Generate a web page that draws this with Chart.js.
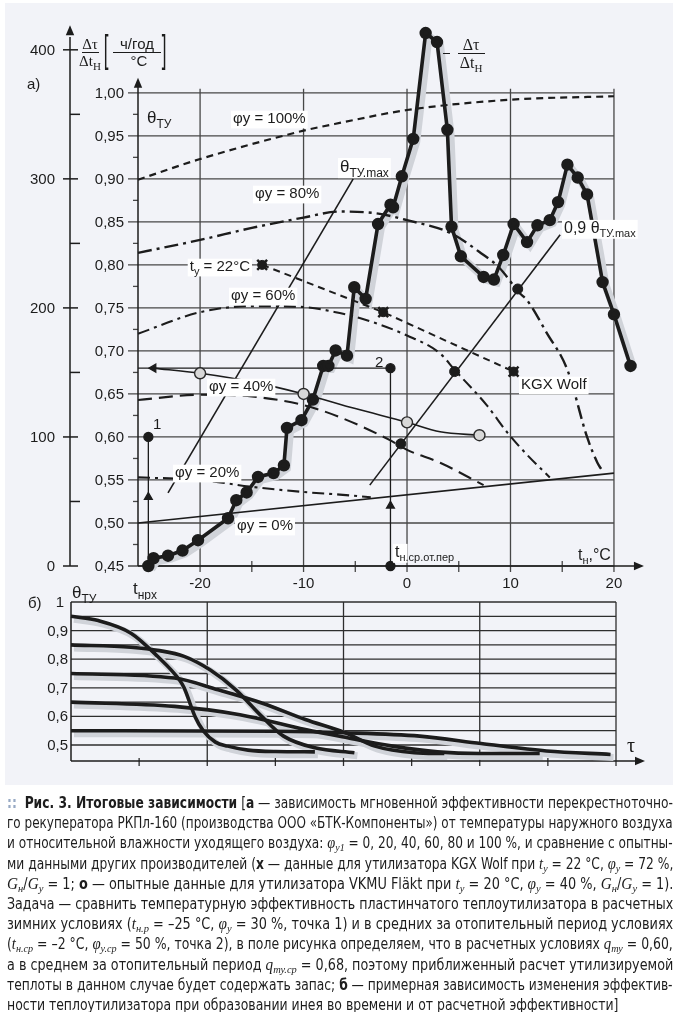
<!DOCTYPE html>
<html lang="ru">
<head>
<meta charset="utf-8">
<title>Итоговые зависимости</title>
<script src="https://cdn.jsdelivr.net/npm/chart.js@4.4.1/dist/chart.umd.min.js"></script>
<style>
  html, body { margin: 0; padding: 0; background: #fff; }
  #page { position: relative; width: 682px; height: 1012px; overflow: hidden; background: #fff; }
  #panel { position: absolute; left: 5px; top: 3px; width: 668px; height: 782px; background: #f2f3f8; }
  #topChart { position: absolute; left: 0; top: 0; }
  #bottomChart { position: absolute; left: 0; top: 585px; }
  .cap { position: absolute; left: 7px; height: 20px; line-height: 20px; white-space: nowrap;
         font-family: "Liberation Sans Narrow", "DejaVu Sans Condensed", "Roboto", sans-serif;
         font-size: 15px; color: #1d1d1d; transform-origin: 0 50%; }
  .cap i { font-family: "Liberation Serif", serif; font-style: italic; font-size: 16px; }
  .cap sub { font-family: "Liberation Serif", serif; font-style: italic; font-size: 11px; vertical-align: -3px; line-height: 0; }
  .dots { color: #97a9c4; font-weight: bold; }
</style>
</head>
<body>
<div id="page">
  <div id="panel"></div>
  <canvas id="topChart" width="682" height="600"></canvas>
  <canvas id="bottomChart" width="682" height="195"></canvas>
  <div id="caption"></div>
</div>
<script>
// ===== ДАННЫЕ: а) эффективность θ_ТУ от t_н =====
const tTicks = [-20, -10, 0, 10, 20];
const tTickLabels = ['-20', '-10', '0', '10', '20'];
const tMinor = [-15, -5, 5, 15];
const thetaTicks = [0.45, 0.50, 0.55, 0.60, 0.65, 0.70, 0.75, 0.80, 0.85, 0.90, 0.95, 1.00];
const thetaTickLabels = ['0,45', '0,50', '0,55', '0,60', '0,65', '0,70', '0,75', '0,80', '0,85', '0,90', '0,95', '1,00'];
const thetaMinor = [0.475, 0.525, 0.575, 0.625, 0.675, 0.725, 0.775, 0.825, 0.875, 0.925, 0.975];
const dtTicks = [0, 100, 200, 300, 400];
const dtMinor = [50, 150, 250, 350];

const phi100T = [-26, -20, -10, -6.5, 0, 10, 20];
const phi100V = [0.899, 0.923, 0.956, 0.965, 0.980, 0.992, 0.996];
const phi80T = [-26, -20, -15, -10, -6.5, -3, 0, 4.2, 7, 8.9, 10.9, 11.6, 13.5, 15.5, 17.4, 18.4, 18.8];
const phi80V = [0.814, 0.829, 0.843, 0.855, 0.862, 0.860, 0.852, 0.837, 0.815, 0.797, 0.767, 0.759, 0.721, 0.678, 0.600, 0.570, 0.562];
const phi60T = [-26, -20, -15, -10, -6.5, -4.5, 0, 3.2, 4.6, 7.7, 9.7, 11.7, 13.8];
const phi60V = [0.720, 0.745, 0.752, 0.751, 0.744, 0.738, 0.718, 0.697, 0.678, 0.637, 0.605, 0.578, 0.553];
const phi40T = [-26, -20, -15, -10, -6.5, -1.6, 0, 3.2, 7.4];
const phi40V = [0.643, 0.649, 0.647, 0.637, 0.623, 0.596, 0.585, 0.570, 0.544];
const phi20T = [-26, -20, -15, -10, -6.5, -3.5];
const phi20V = [0.553, 0.550, 0.542, 0.536, 0.533, 0.530];
const phi0T = [-26, 20];
const phi0V = [0.500, 0.558];

// KGX Wolf (x), t_y = 22 °C
const kgxT = [-14, -2.3, 10.3];
const kgxV = [0.800, 0.745, 0.676];
// VKMU Fläkt (o)
const vkmuT = [-24.5, -20, -15, -10, -5, 0, 3.2, 7];
const vkmuV = [0.680, 0.674, 0.664, 0.650, 0.633, 0.617, 0.606, 0.602];
const vkmuCircT = [-20, -10, 0, 7];
const vkmuCircV = [0.674, 0.650, 0.617, 0.602];

// θ_ТУ.max и 0,9 θ_ТУ.max
const maxT = [-23.1, -5.2];
const maxV = [0.535, 0.900];
const max09T = [-3.6, 14.8];
const max09V = [0.544, 0.835];
const crossT = [-0.6, 4.6, 10.7];
const crossV = [0.592, 0.676, 0.772];

// точки 1 и 2 (расчетные и средние условия)
const pointT = [-25, -1.6];
const pointV = [0.60, 0.68];
const arrowV = [0.53, 0.52];
const arrowT = -24.5;

// Δτ/Δt_н, ч/год/°C
const dtT = [-25, -24.5, -23.1, -21.7, -20.2, -17.3, -16.5, -15.5, -14.4, -12.9, -11.9, -11.6, -10.2, -9.1, -8.1, -7.6, -6.9,
             -5.8, -5.1, -4.0, -2.8, -1.6, -1.35, -0.5, 0.6, 1.8, 2.9, 3.9, 4.3, 5.2, 7.4, 8.4, 9.3, 10.3, 11.6, 12.6, 13.8,
             14.6, 15.5, 16.5, 17.4, 18.9, 20.0, 21.6];
const dtV = [0, 6, 8, 12, 20, 37, 51, 57, 69, 72, 78, 107, 113, 129, 155, 155, 167,
             163, 216, 207, 265, 280, 278, 302, 331, 413, 406, 338, 263, 240, 224, 222, 241, 265, 251, 264, 268,
             282, 311, 301, 288, 220, 195, 155];

// ===== ДАННЫЕ: б) эффективность во времени при инееобразовании =====
const frostTicks = [0.5, 0.6, 0.7, 0.8, 0.9, 1.0];
const frostTickLabels = ['0,5', '0,6', '0,7', '0,8', '0,9', '1'];
const frostGrid = [0.5, 0.55, 0.6, 0.65, 0.7, 0.75, 0.8, 0.85, 0.9, 0.95, 1.0];
const tauGrid = [1, 2, 3, 4];
const tauMinor = [0.5, 1.5, 2.5, 3.5];

const frost95T = [0, 0.2, 0.44, 0.635, 0.795, 0.83, 0.91, 0.97, 1.06, 1.15, 1.3, 1.5, 1.79];
const frost95V = [0.95, 0.935, 0.891, 0.81, 0.728, 0.70, 0.60, 0.55, 0.51, 0.496, 0.482, 0.477, 0.476];
const frost85T = [0, 0.44, 0.65, 0.83, 1.02, 1.21, 1.40, 1.56, 1.79, 2.08];
const frost85V = [0.85, 0.842, 0.83, 0.81, 0.763, 0.693, 0.60, 0.531, 0.49, 0.473];
const frost75T = [0, 0.76, 1.08, 1.40, 1.72, 2.01, 2.23, 2.52, 2.74];
const frost75V = [0.75, 0.734, 0.693, 0.647, 0.589, 0.543, 0.496, 0.473, 0.47];
const frost65T = [0, 0.76, 1.24, 1.72, 2.03, 2.36, 2.69, 3.0, 3.44];
const frost65V = [0.65, 0.635, 0.606, 0.554, 0.525, 0.496, 0.476, 0.47, 0.47];
const frost55T = [0, 1.5, 2.01, 2.56, 3.01, 3.49, 3.96];
const frost55V = [0.55, 0.548, 0.543, 0.531, 0.505, 0.479, 0.467];

// ===== ОБЩЕЕ =====
const SANS = '"Liberation Sans", Arial, sans-serif';
const SERIF = '"Liberation Serif", "Times New Roman", serif';
const ink = '#1c1c1c';
const gridInk = '#474747';
const shadowInk = '#d0d3d9';

function pts(xs, ys) {
  return xs.map((x, i) => ({ x: x, y: ys[i] }));
}

function curve(xs, ys, opts) {
  return Object.assign({
    data: pts(xs, ys), showLine: true, borderColor: ink, borderWidth: 2, pointRadius: 0,
    fill: false, clip: false, cubicInterpolationMode: 'monotone', order: 10
  }, opts);
}

function markers(xs, ys, opts) {
  return Object.assign({
    data: pts(xs, ys), showLine: false, pointRadius: 4.5, pointBackgroundColor: ink,
    pointBorderColor: ink, pointBorderWidth: 1, clip: false, order: 1
  }, opts);
}

function line(ctx, x1, y1, x2, y2) {
  ctx.beginPath(); ctx.moveTo(x1, y1); ctx.lineTo(x2, y2); ctx.stroke();
}

function tri(ctx, x, y, dir, s) {
  ctx.beginPath();
  if (dir === 'up') { ctx.moveTo(x, y); ctx.lineTo(x - s * 0.42, y + s); ctx.lineTo(x + s * 0.42, y + s); }
  else { ctx.moveTo(x, y); ctx.lineTo(x - s, y - s * 0.42); ctx.lineTo(x - s, y + s * 0.42); }
  ctx.closePath(); ctx.fill();
}

// текст с нижними индексами: parts = [[текст, индекс?], ...]
function rich(ctx, x, y, parts, o) {
  o = o || {};
  const size = o.size || 15, fam = o.family || SANS, sub = Math.round(size * 0.7);
  const widths = parts.map(p => { ctx.font = (p[1] ? sub : size) + 'px ' + fam; return ctx.measureText(p[0]).width; });
  const w = widths.reduce((a, b) => a + b, 0);
  let x0 = o.align === 'right' ? x - w : (o.align === 'center' ? x - w / 2 : x);
  if (o.bg) { ctx.fillStyle = '#fff'; ctx.fillRect(x0 - 2, y - size * 0.82, w + 4, size * 1.18); }
  ctx.fillStyle = o.color || ink;
  ctx.textAlign = 'left'; ctx.textBaseline = 'alphabetic';
  parts.forEach((p, i) => {
    ctx.font = (p[1] ? sub : size) + 'px ' + fam;
    ctx.fillText(p[0], x0, p[1] ? y + size * 0.28 : y);
    x0 += widths[i];
  });
  return x0;
}

// тонкая скобка: глиф, сжатый по горизонтали
function bracket(ctx, ch, x, y) {
  ctx.save();
  ctx.translate(x, y);
  ctx.scale(0.5, 1.15);
  ctx.font = '34px ' + SANS; ctx.fillStyle = ink; ctx.textAlign = 'center'; ctx.textBaseline = 'alphabetic';
  ctx.fillText(ch, 0, 0);
  ctx.restore();
}

// сдвиг серой "тени" под жирными кривыми
const shadowShift = {
  id: 'shadowShift',
  beforeDatasetDraw(chart, args) {
    if (chart.data.datasets[args.index].shadow) { chart.ctx.save(); chart.ctx.translate(3, 3); }
  },
  afterDatasetDraw(chart, args) {
    if (chart.data.datasets[args.index].shadow) chart.ctx.restore();
  }
};

// ===== ГРАФИК а) =====
const topFrame = {
  id: 'topFrame',
  beforeDatasetsDraw(chart) {
    const { ctx, scales: { x, y, y2 } } = chart;
    const L = x.getPixelForValue(-26), R = x.getPixelForValue(20);
    const T = y.getPixelForValue(1.0), B = y.getPixelForValue(0.45);
    ctx.save();
    ctx.strokeStyle = gridInk; ctx.lineWidth = 1.3;
    thetaTicks.forEach(v => { const py = y.getPixelForValue(v); line(ctx, L - 10, py, R, py); });
    thetaMinor.forEach(v => { const py = y.getPixelForValue(v); line(ctx, L - 5, py, L, py); });
    tTicks.forEach(v => { const px = x.getPixelForValue(v); line(ctx, px, T - 4, px, B + 6); });
    tMinor.forEach(v => { const px = x.getPixelForValue(v); line(ctx, px, B - 5, px, B + 6); });

    ctx.strokeStyle = ink; ctx.fillStyle = ink; ctx.lineWidth = 1.5;
    // ось θ_ТУ
    line(ctx, L, B, L, T - 8); tri(ctx, L, T - 15, 'up', 10);
    // ось t_н
    line(ctx, L, B, R + 26, B); tri(ctx, R + 30, B, 'right', 10);
    // ось Δτ/Δt_н
    const ax = L - 68;
    line(ctx, ax, y2.getPixelForValue(0), ax, y2.getPixelForValue(410)); tri(ctx, ax, y2.getPixelForValue(419), 'up', 10);
    dtTicks.forEach(v => { const py = y2.getPixelForValue(v); line(ctx, ax - 7, py, ax + 8, py); });
    dtMinor.forEach(v => { const py = y2.getPixelForValue(v); line(ctx, ax, py, ax + 10, py); });

    // подписи делений
    ctx.fillStyle = ink; ctx.font = '15px ' + SANS; ctx.textBaseline = 'alphabetic';
    ctx.textAlign = 'right';
    dtTicks.forEach(v => ctx.fillText(String(v), ax - 15, y2.getPixelForValue(v) + 5));
    thetaTicks.forEach((v, i) => ctx.fillText(thetaTickLabels[i], L - 14, y.getPixelForValue(v) + 5));
    ctx.textAlign = 'center';
    tTicks.forEach((v, i) => ctx.fillText(tTickLabels[i], x.getPixelForValue(v), B + 22));
    ctx.restore();
  },
  afterDatasetsDraw(chart) {
    const ctx = chart.ctx;
    ctx.save();
    // заголовок левой оси: Δτ/Δt_н [ч/год / °C]
    ctx.strokeStyle = ink; ctx.lineWidth = 1;
    rich(ctx, 90, 49, [['Δτ']], { size: 15, family: SERIF, align: 'center' });
    line(ctx, 82, 52.5, 99, 52.5);
    rich(ctx, 90, 66, [['Δt'], ['Н', 1]], { size: 15, family: SERIF, align: 'center' });
    bracket(ctx, '[', 106, 62);
    bracket(ctx, ']', 164, 62);
    rich(ctx, 137, 49, [['ч/год']], { size: 15, align: 'center' });
    line(ctx, 113, 52.5, 161, 52.5);
    rich(ctx, 139, 66, [['°C']], { size: 15, align: 'center' });
    rich(ctx, 27, 89, [['а)']], { size: 15 });

    // правая подпись кривой Δτ/Δt_н
    line(ctx, 443, 53.5, 450, 53.5);
    rich(ctx, 471, 50, [['Δτ']], { size: 16, family: SERIF, align: 'center' });
    line(ctx, 458, 53.5, 485, 53.5);
    rich(ctx, 471, 68, [['Δt'], ['Н', 1]], { size: 16, family: SERIF, align: 'center' });

    rich(ctx, 147, 123, [['θ'], ['ТУ', 1]], { size: 17 });
    rich(ctx, 233, 123, [['φy = 100%']], { bg: true });
    rich(ctx, 255, 198, [['φy = 80%']], { bg: true });
    rich(ctx, 250, 271, [['t'], ['y', 1], [' = 22°C']], { bg: true, align: 'right' });
    rich(ctx, 231, 300, [['φy = 60%']], { bg: true });
    rich(ctx, 209, 391, [['φy = 40%']], { bg: true });
    rich(ctx, 175, 477, [['φy = 20%']], { bg: true });
    rich(ctx, 237, 530, [['φy = 0%']], { bg: true });
    rich(ctx, 521, 389, [['KGX Wolf']], { bg: true });
    rich(ctx, 340, 172, [['θ'], ['ТУ.max', 1]], { bg: true, size: 17 });
    rich(ctx, 564, 233, [['0,9 θ'], ['ТУ.max', 1]], { bg: true, size: 16 });
    rich(ctx, 153, 429, [['1']]);
    rich(ctx, 375, 367, [['2']]);
    const xe = rich(ctx, 395, 557, [['t', 0], ['н', 1]], { bg: true, size: 16 });
    rich(ctx, xe, 557, [['.ср.от.пер', 1]], { size: 16 });
    rich(ctx, 578, 560, [['t'], ['н', 1], [',°C']], { size: 16 });
    rich(ctx, 133, 594, [['t'], ['нрх', 1]], { size: 17 });
    ctx.restore();
  }
};

const topChart = new Chart(document.getElementById('topChart'), {
  type: 'scatter',
  data: {
    datasets: [
      curve(dtT, dtV, { yAxisID: 'y2', borderColor: shadowInk, borderWidth: 8, tension: 0,
                        cubicInterpolationMode: 'default', shadow: true, order: 20 }),
      curve(phi100T, phi100V, { borderDash: [7, 5], borderWidth: 2.2 }),
      curve(phi80T, phi80V, { borderDash: [14, 5, 3, 5], borderWidth: 2.4 }),
      curve(phi60T, phi60V, { borderDash: [12, 5, 3, 5], borderWidth: 2.1 }),
      curve(phi40T, phi40V, { borderDash: [14, 7], borderWidth: 2.1 }),
      curve(phi20T, phi20V, { borderDash: [12, 5, 3, 5], borderWidth: 2.1 }),
      curve(phi0T, phi0V, { borderWidth: 1.6 }),
      curve(kgxT, kgxV, { borderDash: [7, 5], borderWidth: 2, cubicInterpolationMode: 'default',
                          pointStyle: 'crossRot', pointRadius: 7, pointBorderWidth: 2.5, pointBorderColor: ink }),
      markers(kgxT, kgxV, { pointRadius: 4.5 }),
      curve(vkmuT, vkmuV, { borderWidth: 1.6 }),
      markers(vkmuCircT, vkmuCircV, { pointRadius: 5.5, pointBackgroundColor: '#d8d8d8', pointBorderColor: '#2a2a2a', pointBorderWidth: 1.4 }),
      curve(maxT, maxV, { borderWidth: 1.6, cubicInterpolationMode: 'default' }),
      curve(max09T, max09V, { borderWidth: 1.6, cubicInterpolationMode: 'default' }),
      markers(crossT, crossV, { pointRadius: 5 }),
      // точка 1: вертикаль со стрелкой
      curve([pointT[0], pointT[0], pointT[0]], [0.45, arrowV[0], pointV[0]], {
        borderWidth: 1.3, cubicInterpolationMode: 'default', order: 2,
        pointStyle: ['circle', 'triangle', 'circle'], pointRadius: [0, 4.5, 4.5],
        pointBackgroundColor: ink, pointBorderColor: ink }),
      // точка 2: вертикаль и горизонталь со стрелками
      curve([pointT[1], pointT[1], pointT[1]], [pointV[1], arrowV[1], 0.45], {
        borderWidth: 1.3, cubicInterpolationMode: 'default', order: 2,
        pointStyle: ['circle', 'triangle', 'circle'], pointRadius: [4.5, 4.5, 4.5],
        pointBackgroundColor: ink, pointBorderColor: ink }),
      curve([pointT[1], arrowT, -26], [pointV[1], pointV[1], pointV[1]], {
        borderWidth: 1.3, cubicInterpolationMode: 'default', order: 2,
        pointStyle: ['circle', 'triangle', 'circle'], pointRadius: [0, 4.5, 0], pointRotation: [0, 270, 0],
        pointBackgroundColor: ink, pointBorderColor: ink }),
      curve(dtT, dtV, { yAxisID: 'y2', borderWidth: 3.6, tension: 0, cubicInterpolationMode: 'default',
                        pointRadius: 4.4, pointBackgroundColor: ink, pointBorderColor: ink, order: 3 })
    ]
  },
  options: {
    responsive: false,
    animation: false,
    events: [],
    layout: { padding: { left: 138, right: 37, top: 24, bottom: 34 } },
    plugins: { legend: { display: false }, tooltip: { enabled: false } },
    scales: {
      x: { type: 'linear', display: false, min: -26, max: 23 },
      y: { type: 'linear', display: false, min: 0.45, max: 1.08 },
      y2: { type: 'linear', display: false, min: 0, max: 420 }
    }
  },
  plugins: [topFrame, shadowShift]
});

// ===== ГРАФИК б) =====
const bottomFrame = {
  id: 'bottomFrame',
  beforeDatasetsDraw(chart) {
    const { ctx, scales: { x, y } } = chart;
    const L = x.getPixelForValue(0), R = x.getPixelForValue(4);
    const T = y.getPixelForValue(1.0), B = y.getPixelForValue(y.min);
    ctx.save();
    ctx.strokeStyle = '#2e2e2e'; ctx.lineWidth = 1.3;
    frostGrid.forEach(v => { const py = y.getPixelForValue(v); line(ctx, L, py, R, py); });
    tauGrid.forEach(v => { const px = x.getPixelForValue(v); line(ctx, px, T, px, B + 5); });
    tauMinor.forEach(v => { const px = x.getPixelForValue(v); line(ctx, px, B - 3, px, B + 5); });
    ctx.strokeStyle = ink; ctx.fillStyle = ink; ctx.lineWidth = 1.5;
    line(ctx, L, T, L, B);
    line(ctx, L, B, R + 24, B); tri(ctx, R + 29, B, 'right', 10);

    ctx.font = '15px ' + SANS; ctx.textAlign = 'right'; ctx.textBaseline = 'alphabetic';
    frostTicks.forEach((v, i) => {
      ctx.fillText(frostTickLabels[i], i === frostTicks.length - 1 ? L - 7 : L - 3, y.getPixelForValue(v) + 5);
    });
    ctx.restore();
  },
  afterDatasetsDraw(chart) {
    const ctx = chart.ctx;
    ctx.save();
    rich(ctx, 28, 23, [['б)']], { size: 15 });
    rich(ctx, 72, 13, [['θ'], ['ТУ', 1]], { size: 17 });
    rich(ctx, 627, 167, [['τ']], { size: 20, family: SERIF });
    ctx.restore();
  }
};

function frost(xs, ys) {
  return [
    curve(xs, ys, { borderColor: shadowInk, borderWidth: 7, shadow: true, order: 20 }),
    curve(xs, ys, { borderWidth: 3.6, order: 5 })
  ];
}

const bottomChart = new Chart(document.getElementById('bottomChart'), {
  type: 'scatter',
  data: {
    datasets: [].concat(
      frost(frost95T, frost95V), frost(frost85T, frost85V), frost(frost75T, frost75V),
      frost(frost65T, frost65V), frost(frost55T, frost55V))
  },
  options: {
    responsive: false,
    animation: false,
    events: [],
    layout: { padding: { left: 71, right: 66, top: 17, bottom: 19 } },
    plugins: { legend: { display: false }, tooltip: { enabled: false } },
    scales: {
      x: { type: 'linear', display: false, min: 0, max: 4 },
      y: { type: 'linear', display: false, min: 0.444, max: 1.0 }
    }
  },
  plugins: [bottomFrame, shadowShift]
});

// ===== ПОДПИСЬ К РИСУНКУ =====
const captionLines = [
  '<span class="dots">::</span>&nbsp; <b>Рис. 3. Итоговые зависимости</b> [<b>а</b> — зависимость мгновенной эффективности перекрестноточно-',
  'го рекуператора РКПл-160 (производства ООО «БТК-Компоненты») от температуры наружного воздуха',
  'и относительной влажности уходящего воздуха: <i>φ</i><sub>у1</sub> = 0, 20, 40, 60, 80 и 100 %, и сравнение с опытны-',
  'ми данными других производителей (<b>x</b> — данные для утилизатора KGX Wolf при <i>t</i><sub>у</sub> = 22 °C, <i>φ</i><sub>у</sub> = 72 %,',
  '<i>G</i><sub>н</sub>/<i>G</i><sub>у</sub> = 1; <b>o</b> — опытные данные для утилизатора VKMU Fläkt при <i>t</i><sub>у</sub> = 20 °C, <i>φ</i><sub>у</sub> = 40 %, <i>G</i><sub>н</sub>/<i>G</i><sub>у</sub> = 1).',
  'Задача — сравнить температурную эффективность пластинчатого теплоутилизатора в расчетных',
  'зимних условиях (<i>t</i><sub>н.р</sub> = –25 °C, <i>φ</i><sub>у</sub> = 30 %, точка 1) и в средних за отопительный период условиях',
  '(<i>t</i><sub>н.ср</sub> = –2 °C, <i>φ</i><sub>у.ср</sub> = 50 %, точка 2), в поле рисунка определяем, что в расчетных условиях <i>q</i><sub>ту</sub> = 0,60,',
  'а в среднем за отопительный период <i>q</i><sub>ту.ср</sub> = 0,68, поэтому приближенный расчет утилизируемой',
  'теплоты в данном случае будет содержать запас; <b>б</b> — примерная зависимость изменения эффектив-',
  'ности теплоутилизатора при образовании инея во времени и от расчетной эффективности]'
];

const captionBox = document.getElementById('caption');
const captionDivs = captionLines.map((html, i) => {
  const d = document.createElement('div');
  d.className = 'cap';
  d.style.top = (793 + i * 20.2) + 'px';
  d.innerHTML = html;
  captionBox.appendChild(d);
  return d;
});

// выключка строк по ширине колонки
function fitCaption() {
  const full = 666;
  const k = [];
  captionDivs.forEach((d, i) => {
    if (i === captionDivs.length - 1) return;
    const s = full / d.scrollWidth;
    k.push(s);
    d.style.transform = 'scaleX(' + s + ')';
  });
  const avg = k.reduce((a, b) => a + b, 0) / k.length;
  captionDivs[captionDivs.length - 1].style.transform = 'scaleX(' + avg + ')';
}
fitCaption();
document.fonts.ready.then(fitCaption);
</script>
</body>
</html>
